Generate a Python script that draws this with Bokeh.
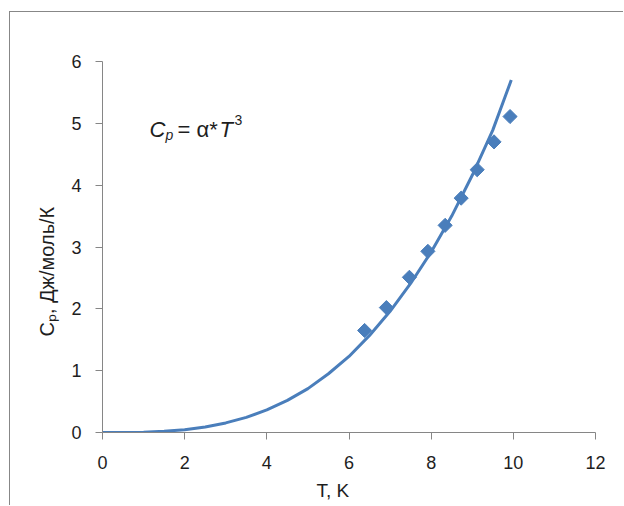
from math import pi
from bokeh.plotting import figure
from bokeh.models import Range1d, FixedTicker, Label, Title
from bokeh.embed import file_html
from bokeh.resources import INLINE

# ---- data ----
curve_T = [0, 0.5, 1, 1.5, 2, 2.5, 3, 3.5, 4, 4.5, 5, 5.5, 6, 6.5, 7, 7.5, 8, 8.5, 9, 9.5, 9.95]
curve_Cp = [0, 0.001, 0.005, 0.02, 0.045, 0.09, 0.155, 0.245, 0.365, 0.52, 0.71, 0.95,
            1.23, 1.57, 1.96, 2.41, 2.92, 3.50, 4.16, 4.89, 5.70]
pts_T = [6.38, 6.91, 7.47, 7.92, 8.34, 8.73, 9.12, 9.53, 9.92]
pts_Cp = [1.65, 2.02, 2.51, 2.93, 3.35, 3.79, 4.25, 4.70, 5.11]
x_ticks = [0, 2, 4, 6, 8, 10, 12]
y_ticks = [0, 1, 2, 3, 4, 5, 6]
x_title = "T, K"
y_title = "C\u209a, Дж/моль/К"

BLUE = "#4a7ebb"
AXIS = "#868686"
TXT = "#1e1e1e"
TICK_FONT = "'Liberation Sans Narrow', 'Liberation Sans', sans-serif"
FONT = "'Liberation Sans', sans-serif"

W, H = 614, 494
ML, MR, MT, MB = 92, 29, 49, 74
CX, CY = 10, 12          # canvas origin on the page (after margin + border)

p = figure(width=W, height=H, x_range=Range1d(0, 12), y_range=Range1d(0, 6),
           output_backend="svg", toolbar_location=None,
           min_border_left=ML, min_border_right=MR, min_border_top=MT, min_border_bottom=MB)
p.margin = (11, 0, 0, 9)
p.styles = {"border-left": "1px solid #878787", "border-top": "1px solid #878787",
            "border-right": "none", "border-bottom": "none", "outline": "none",
            "box-shadow": "none"}
p.xgrid.visible = False
p.ygrid.visible = False
p.outline_line_color = None
p.background_fill_color = "white"
p.border_fill_color = "white"

for ax, ticks in ((p.xaxis, x_ticks), (p.yaxis, y_ticks)):
    ax.ticker = FixedTicker(ticks=ticks)
    ax.axis_line_color = AXIS
    ax.major_tick_line_color = AXIS
    ax.major_tick_in = 0
    ax.major_tick_out = 7
    ax.minor_tick_line_color = None
    ax.major_label_text_font = TICK_FONT
    ax.major_label_text_font_size = "18px"
    ax.major_label_text_color = TXT
p.xaxis.major_label_standoff = 16
p.yaxis.major_label_standoff = 14

frame_w = W - ML - MR
frame_h = H - MT - MB
X0 = CX + ML
Y0 = CY + MT + frame_h

# axis titles as side titles, aligned to the frame start with a pixel offset
p.add_layout(Title(text=x_title, align="left", offset=316 - X0, text_font=FONT,
                   text_font_size="19px", text_font_style="normal",
                   text_color=TXT, standoff=12), "below")
p.add_layout(Title(text=y_title, align="left", offset=Y0 - 336, text_font=FONT,
                   text_font_size="20px", text_font_style="normal",
                   text_color=TXT, standoff=21), "left")

p.line(curve_T, curve_Cp, line_color=BLUE, line_width=3)
p.scatter(pts_T, pts_Cp, marker="square", angle=pi / 4, size=10,
          fill_color=BLUE, line_color=BLUE)

# pixel -> data helpers for the in-plot annotation
SX = frame_w / 12.0
SY = frame_h / 6.0


def dx(px):
    return (px - X0) / SX


def dy(py):
    return (Y0 - py) / SY


def lab(text, px, py, size, style="normal"):
    p.add_layout(Label(x=dx(px), y=dy(py), text=text, text_font=FONT,
                       text_font_size=f"{size}px", text_font_style=style,
                       text_color=TXT, text_align="left",
                       text_baseline="alphabetic"))


# equation annotation  C_p = α*T^3
lab("C", 149, 129, 22, style="italic")
lab("p", 165, 134, 14, style="italic")
lab("= α*", 177, 129, 22)
lab("T", 219, 129, 22, style="italic")
lab("3", 234, 119, 14)

open("out.html", "w").write(file_html(p, INLINE))
